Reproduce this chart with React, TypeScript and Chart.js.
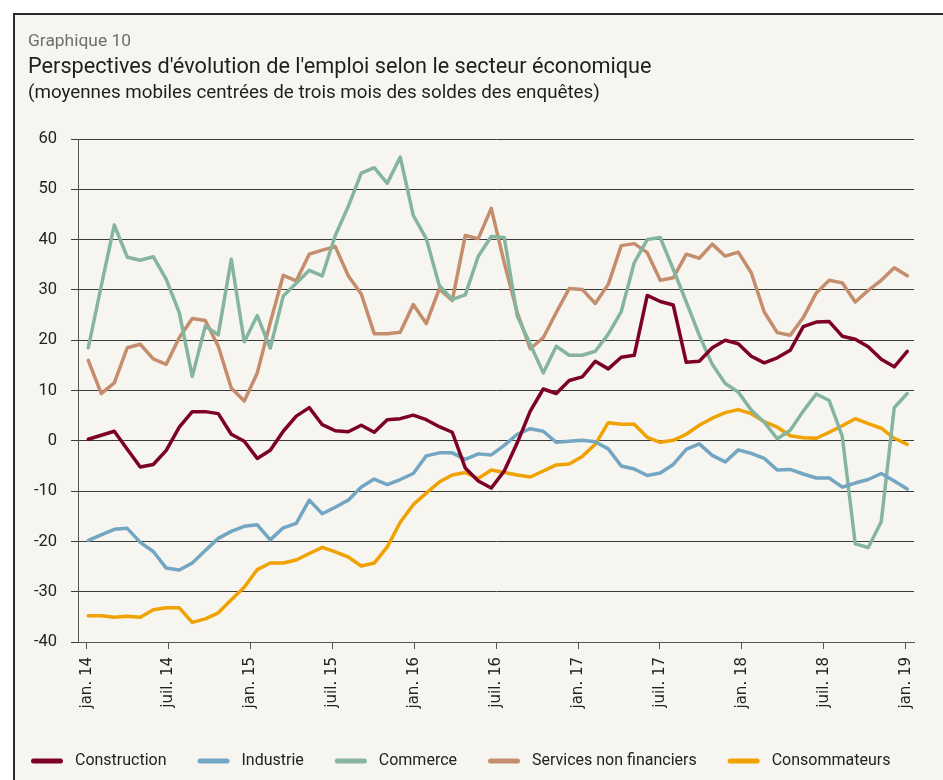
import React, { useEffect, useRef } from "react";
import { Chart, registerables } from "chart.js";

Chart.register(...registerables);

const FONT = "Roboto, 'Noto Sans', sans-serif";
const TICK_FONT = "'DejaVu Sans', 'Noto Sans', sans-serif";

const seriesNames = ["Construction", "Industrie", "Commerce", "Services non financiers", "Consommateurs"];
const seriesColors = ["#7d0026", "#72a6c3", "#85b59f", "#c48d6e", "#f0a202"];
const xTickLabels = ["jan. 14", "juil. 14", "jan. 15", "juil. 15", "jan. 16", "juil. 16", "jan. 17", "juil. 17", "jan. 18", "juil. 18", "jan. 19"];

const construction = [0.3, 1.1, 1.9, -1.7, -5.2, -4.7, -1.9, 2.7, 5.8, 5.8, 5.4, 1.3, -0.1, -3.5, -1.9, 1.9, 4.9, 6.6, 3.2, 2.0, 1.8, 3.1, 1.7, 4.2, 4.4, 5.1, 4.2, 2.8, 1.7, -5.4, -8.0, -9.4, -6.0, -0.4, 5.9, 10.3, 9.4, 12.0, 12.7, 15.8, 14.3, 16.6, 17.0, 28.9, 27.7, 27.0, 15.6, 15.8, 18.5, 20.0, 19.3, 16.8, 15.5, 16.5, 18.0, 22.7, 23.6, 23.7, 20.8, 20.2, 18.7, 16.2, 14.7, 17.8];
const industrie = [-19.8, -18.7, -17.6, -17.4, -20.2, -22.0, -25.3, -25.7, -24.3, -21.8, -19.4, -18.0, -17.0, -16.7, -19.7, -17.3, -16.4, -11.8, -14.5, -13.2, -11.8, -9.2, -7.6, -8.7, -7.7, -6.5, -3.0, -2.4, -2.4, -3.7, -2.6, -2.8, -0.9, 1.3, 2.4, 1.9, -0.3, -0.1, 0.1, -0.2, -1.6, -5.0, -5.6, -6.9, -6.4, -4.7, -1.7, -0.6, -2.9, -4.2, -1.8, -2.5, -3.5, -5.8, -5.7, -6.6, -7.4, -7.4, -9.2, -8.4, -7.7, -6.5, -8.0, -9.6];
const commerce = [18.5, 30.8, 42.9, 36.5, 35.9, 36.6, 32.1, 25.5, 12.8, 22.8, 21.1, 36.1, 19.7, 24.9, 18.4, 28.8, 31.3, 33.9, 32.8, 40.8, 46.6, 53.2, 54.3, 51.2, 56.4, 44.8, 40.2, 30.9, 28.1, 29.0, 36.7, 40.6, 40.4, 24.8, 19.2, 13.5, 18.8, 17.0, 17.0, 17.8, 21.2, 25.7, 35.4, 40.0, 40.4, 34.1, 27.6, 21.0, 15.2, 11.4, 9.7, 6.1, 3.7, 0.4, 2.1, 5.9, 9.3, 8.0, 0.9, -20.5, -21.2, -16.1, 6.6, 9.4];
const services = [16.0, 9.4, 11.5, 18.5, 19.2, 16.3, 15.2, 20.5, 24.3, 23.9, 18.8, 10.5, 7.9, 13.5, 23.5, 32.9, 31.8, 37.1, 37.9, 38.6, 32.8, 29.2, 21.3, 21.3, 21.6, 27.1, 23.3, 30.2, 27.9, 40.8, 40.2, 46.2, 35.4, 25.5, 18.3, 20.5, 25.5, 30.3, 30.1, 27.3, 31.1, 38.8, 39.2, 37.4, 31.9, 32.4, 37.1, 36.3, 39.1, 36.7, 37.5, 33.4, 25.6, 21.5, 21.0, 24.5, 29.4, 31.9, 31.4, 27.6, 29.9, 31.9, 34.4, 32.8];
const consommateurs = [-34.8, -34.8, -35.1, -34.9, -35.1, -33.6, -33.2, -33.2, -36.1, -35.4, -34.2, -31.6, -29.1, -25.6, -24.3, -24.3, -23.7, -22.4, -21.2, -22.1, -23.1, -24.9, -24.3, -21.1, -16.2, -12.7, -10.4, -8.2, -6.8, -6.3, -7.5, -5.8, -6.3, -6.8, -7.2, -6.0, -4.8, -4.6, -3.1, -0.7, 3.6, 3.3, 3.3, 0.7, -0.3, 0.1, 1.3, 3.1, 4.5, 5.6, 6.2, 5.4, 3.8, 2.7, 1.0, 0.6, 0.5, 1.7, 3.0, 4.4, 3.4, 2.5, 0.5, -0.7];

const seriesValues = [construction, industrie, commerce, services, consommateurs];

export default function App() {
  const ref = useRef<HTMLCanvasElement>(null);

  useEffect(() => {
    const canvas = ref.current;
    if (!canvas) return;
    const datasets = seriesNames.map((name, k) => ({
      label: name,
      data: seriesValues[k].map((y, i) => ({ x: i, y })),
      borderColor: seriesColors[k],
      backgroundColor: seriesColors[k],
      borderWidth: 3.5,
      pointRadius: 0,
      tension: 0,
      borderJoinStyle: "round" as const,
      borderCapStyle: "round" as const,
      fill: false,
      yAxisID: "y",
      xAxisID: "x",
    }));
    const chart = new Chart(canvas, {
      type: "line",
      data: { datasets },
      options: {
        animation: false,
        responsive: false,
        devicePixelRatio: 1,
        layout: { padding: { left: 0, right: 0, top: 139, bottom: 1 } },
        plugins: {
          legend: {
            position: "bottom",
            align: "start",
            labels: {
              boxWidth: 32,
              boxHeight: 5,
              padding: 31,
              color: "#222",
              font: { family: FONT, size: 16 },
              useBorderRadius: true,
              borderRadius: 2.5,
              generateLabels: (c: any) =>
                c.data.datasets.map((d: any, i: number) => ({
                  text: " " + d.label,
                  fillStyle: d.borderColor,
                  strokeStyle: d.borderColor,
                  lineWidth: 0,
                  hidden: false,
                  datasetIndex: i,
                  borderRadius: 2.5,
                  fontColor: "#222",
                })),
            },
          },
          tooltip: { enabled: false },
          title: { display: false },
        },
        scales: {
          x: {
            type: "linear",
            min: -0.79,
            max: 63.52,
            afterBuildTicks: (s: any) => {
              s.ticks = xTickLabels.map((_, k) => ({ value: k * 6.3 - 0.12 }));
            },
            afterFit: (s: any) => {
              s.height = 80;
            },
            ticks: {
              autoSkip: false,
              minRotation: 90,
              maxRotation: 90,
              padding: 8,
              color: "#222",
              font: { family: TICK_FONT, size: 15 },
              callback: (_v: any, i: number) => xTickLabels[i],
            },
            grid: { drawOnChartArea: false, drawTicks: true, tickLength: 7, color: "#555" },
            border: { display: true, color: "#555", width: 1 },
          },
          y: {
            position: "left",
            min: -40,
            max: 60,
            afterFit: (s: any) => {
              s.width = 78;
            },
            ticks: {
              stepSize: 10,
              padding: 14,
              color: "#222",
              font: { family: FONT, size: 16.5 },
            },
            grid: { color: "#3a3a3a", tickLength: 7, drawTicks: true, lineWidth: 1 },
            border: { display: true, color: "#555", width: 1 },
          },
          yRightSpace: {
            type: "linear",
            position: "right",
            min: 0,
            max: 1,
            afterFit: (s: any) => {
              s.width = 29;
            },
            ticks: { display: false },
            grid: { display: false, drawTicks: false, drawOnChartArea: false },
            border: { display: false },
          },
        },
      },
    });
    return () => chart.destroy();
  }, []);

  return (
    <div style={{ position: "fixed", left: 0, top: 0, width: 943, height: 780, background: "#fff", overflow: "hidden" }}>
      <div
        style={{
          position: "absolute",
          left: 13,
          top: 13,
          width: 960,
          height: 800,
          border: "2px solid #2b2b2b",
          background: "#f7f5f0",
        }}
      />
      <canvas ref={ref} width={943} height={780} style={{ position: "absolute", left: 0, top: 0, width: 943, height: 780 }} />
      <div style={{ position: "absolute", left: 28, top: 28, fontFamily: FONT, fontSize: 17.4, lineHeight: "24px", color: "#6e6e6e", whiteSpace: "nowrap" }}>
        Graphique 10
      </div>
      <div style={{ position: "absolute", left: 28, top: 52, fontFamily: FONT, fontSize: 21.7, lineHeight: "28px", color: "#1e1e1e", whiteSpace: "nowrap" }}>
        Perspectives d'évolution de l'emploi selon le secteur économique
      </div>
      <div style={{ position: "absolute", left: 28, top: 79, fontFamily: FONT, fontSize: 18.8, lineHeight: "26px", color: "#1e1e1e", whiteSpace: "nowrap" }}>
        (moyennes mobiles centrées de trois mois des soldes des enquêtes)
      </div>
    </div>
  );
}
